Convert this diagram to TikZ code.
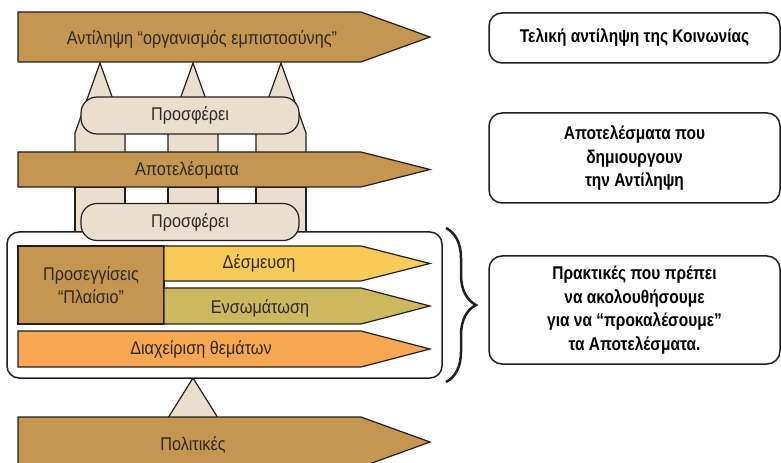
\documentclass[tikz,border=0pt]{standalone}
\usepackage{fontspec}
\setmainfont{Liberation Sans}[FakeStretch=0.88]
\newfontfamily\notefont{Liberation Sans}[FakeStretch=0.84]
\usetikzlibrary{positioning, decorations.pathreplacing}
\definecolor{ochre}{RGB}{197,150,80}
\definecolor{sand}{RGB}{234,223,206}
\definecolor{mustard}{RGB}{248,203,88}
\definecolor{olive}{RGB}{205,184,96}
\definecolor{apricot}{RGB}{248,168,80}
\definecolor{ink}{RGB}{35,31,32}
\definecolor{label}{RGB}{45,40,36}

\begin{document}
\begin{tikzpicture}[
  x=1bp, y=-1bp,
  font=\fontsize{18.5}{23}\selectfont,
  band/.style={draw=ink, line width=1.2bp, line join=miter},
  pillar/.style={draw=ink, fill=sand, line width=1.2bp},
  offer/.style={rectangle, rounded corners=16bp, draw=ink, fill=sand, line width=1.2bp,
              minimum width=218bp, minimum height=37bp, text=label, text height=14bp, text depth=3bp},
  txt/.style={anchor=base, text=label, inner sep=0pt},
  note/.style={rectangle, rounded corners=13bp, draw=ink, line width=1.5bp, minimum width=291bp,
              align=center, text=black, font=\notefont\fontsize{18.5}{23.5}\selectfont\bfseries},
]
\useasboundingbox (0,0) rectangle (781,463);

% pillars behind the bands
\foreach \c in {100,193,281} {
  \draw[pillar] (\c-25,152) -- (\c-25,133) -- (\c,63) -- (\c+25,133) -- (\c+25,152);
  \draw[pillar] (\c-25,187) rectangle (\c+25,232);
}
\draw[pillar] (168,418) -- (193,378) -- (218,418);

% bands
\draw[band, fill=ochre] (18,12) -- (361,12) -- (430,37) -- (361,62) -- (18,62) -- cycle;
\draw[band, fill=ochre] (18,152) -- (361,152) -- (430,169.5) -- (361,187) -- (18,187) -- cycle;
\draw[band, fill=ochre] (18,417) -- (361,417) -- (430,442) -- (361,467) -- (18,467) -- cycle;

% practices frame
\draw[draw=ink, fill=white, line width=1.5bp, rounded corners=12bp] (7,232) rectangle (442,378);
\node[band, fill=ochre, minimum width=146bp, minimum height=78bp, align=center, text=label,
      inner sep=0pt] (approach) at (91,285) {Προσεγγίσεις\\“Πλαίσιο”};
\draw[band, fill=mustard] (164,246) -- (361,246) -- (430,263.5) -- (361,281) -- (164,281) -- cycle;
\draw[band, fill=olive] (164,288) -- (361,288) -- (430,306) -- (361,324) -- (164,324) -- cycle;
\draw[band, fill=apricot] (18,331) -- (361,331) -- (430,349) -- (361,367) -- (18,367) -- cycle;

\node[offer] (offer1) at (190,115.5) {Προσφέρει};
\node[offer] (offer2) at (190,222) {Προσφέρει};

% labels
\node[txt] (percep) at (202,45) {Αντίληψη “οργανισμός εμπιστοσύνης”};
\node[txt] (outcome) at (187,176) {Αποτελέσματα};
\node[txt] (commit) at (259,269) {Δέσμευση};
\node[txt] (embed) at (260,314) {Ενσωμάτωση};
\node[txt] (issues) at (201,355) {Διαχείριση θεμάτων};
\node[txt] (policy) at (193,450) {Πολιτικές};

% brace and notes
\coordinate (bracetop) at (446,228);
\coordinate (bracebot) at (446,382);
\draw[decorate, decoration={brace, amplitude=30bp}, draw=ink, line width=2.5bp] (bracetop) -- (bracebot);

\node[note, minimum height=50bp] (final) at (634.5,38) {Τελική αντίληψη της Κοινωνίας};
\node[note, minimum height=90bp] (results) at (634.5,158) {Αποτελέσματα που\\δημιουργουν\\την Αντίληψη};
\node[note, minimum height=108bp] (practice) at (634.5,310) {Πρακτικές που πρέπει\\να ακολουθήσουμε\\για να “προκαλέσουμε”\\τα Αποτελέσματα.};

\end{tikzpicture}
\end{document}
